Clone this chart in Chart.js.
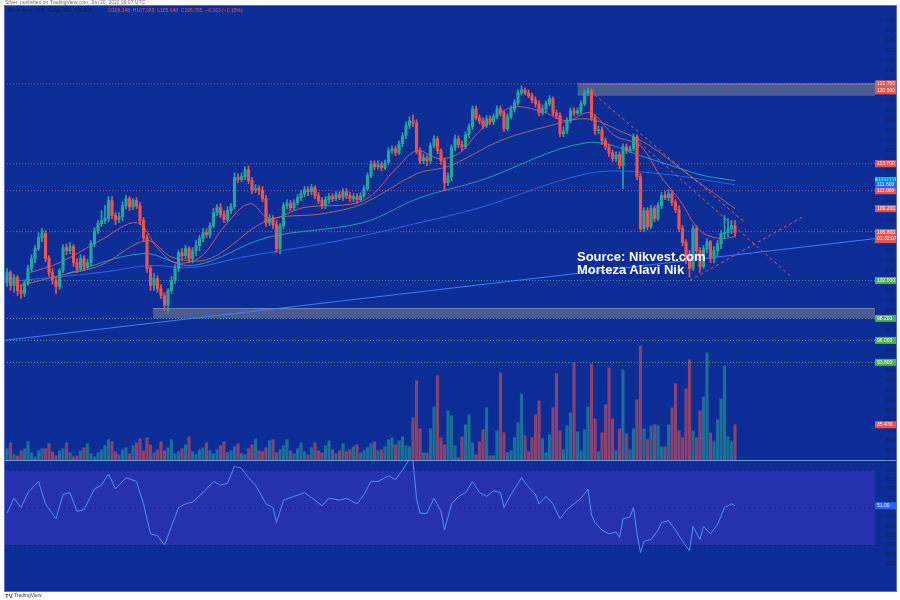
<!DOCTYPE html>
<html>
<head>
<meta charset="utf-8">
<script src="https://cdn.jsdelivr.net/npm/chart.js@4.4.0/dist/chart.umd.min.js"></script>
<style>
  body { margin: 0; background: #fff; }
  #wrap { position: relative; width: 900px; height: 600px; overflow: hidden; }
  #chart { position: absolute; left: 0; top: 0; }
  #source { position: absolute; left: 577px; top: 250px; color: #fff; font: bold 13px "Liberation Sans", Arial, sans-serif; line-height: 13px; pointer-events: none; }
</style>
</head>
<body>
<div id="wrap">
  <canvas id="chart" width="900" height="600"></canvas>
  <div id="source">Source: Nikvest.com<br>Morteza Alavi Nik</div>
</div>
<script>
// candles, one per bar
const opens = [
  101.8,102.8,101.5,102.3,101.0,100.7,101.8,103.2,104.2,105.2,
  106.3,106.7,104.2,102.8,102.0,101.4,103.0,105.3,105.0,105.4,
  103.8,103.2,104.2,103.4,103.8,105.7,107.0,107.7,108.0,108.2,
  110.0,108.5,108.1,108.4,109.5,110.2,109.4,110.0,109.5,108.0,
  106.3,103.2,101.5,102.2,101.2,100.5,99.5,101.0,102.0,103.2,
  104.8,104.5,105.2,104.2,105.0,105.5,106.2,106.8,106.6,107.5,
  108.8,109.3,108.6,108.1,109.0,109.4,112.3,112.1,112.4,113.1,
  112.0,111.1,111.2,111.0,110.2,107.8,108.2,107.6,105.2,107.5,
  109.5,109.7,109.3,109.8,110.3,110.7,111.1,110.9,111.3,110.5,
  110.0,109.5,110.1,110.4,110.2,110.6,110.3,110.9,110.5,110.2,
  110.4,110.1,110.5,111.2,112.5,113.7,113.4,113.6,113.3,113.8,
  115.0,115.2,114.8,115.7,116.5,117.5,118.0,117.8,115.0,114.0,
  114.3,114.0,115.5,116.2,115.0,114.0,111.8,112.4,115.3,116.2,
  115.6,115.4,116.6,117.4,119.2,118.3,118.0,117.5,118.2,117.9,
  118.4,119.2,118.8,117.2,118.4,119.2,119.8,120.8,121.1,120.8,
  120.5,120.1,119.7,118.8,119.2,119.7,120.2,118.8,118.5,116.7,
  117.0,118.0,119.0,118.8,119.0,119.7,120.8,121.0,118.3,117.0,
  117.1,116.0,115.4,114.8,114.2,114.6,113.5,115.4,115.0,115.2,
  116.4,112.4,107.2,109.0,107.4,109.2,108.2,109.5,110.5,110.3,
  110.7,109.8,109.1,107.2,105.8,104.2,103.2,107.2,105.0,103.4,
  105.2,105.9,104.2,105.0,105.7,106.7,106.8,107.2,107.5
];
const highs = [
  103.2,103.0,102.6,102.5,101.6,102.0,103.5,104.6,105.5,106.8,
  107.2,107.0,104.5,103.2,102.4,103.2,105.6,105.7,105.8,105.6,
  104.2,104.6,104.5,104.1,106.0,107.3,108.0,109.0,109.5,110.4,
  110.4,108.8,108.8,109.9,110.5,110.4,110.2,110.3,109.8,108.3,
  106.6,103.5,102.7,102.5,101.6,100.8,101.2,102.4,103.6,105.0,
  105.2,105.5,105.4,105.3,106.0,106.5,107.2,107.2,107.8,109.2,
  109.6,109.7,109.0,109.4,109.7,112.8,112.7,112.8,113.4,113.5,
  112.3,111.6,111.5,111.4,110.5,108.6,108.5,108.0,107.7,109.8,
  110.1,110.0,110.1,110.6,111.0,111.4,111.4,111.6,111.5,110.8,
  110.3,110.4,110.7,110.7,110.9,110.9,111.2,111.2,110.8,110.7,
  110.7,110.8,111.5,112.8,114.0,114.0,114.0,113.9,114.1,115.3,
  115.5,115.5,116.0,116.8,117.9,118.4,118.6,118.1,115.3,114.7,
  114.6,115.8,116.5,116.4,115.2,114.3,112.8,115.6,116.6,116.5,
  116.0,116.9,117.7,119.5,119.5,118.6,118.3,118.5,118.5,118.7,
  119.5,119.5,119.0,118.7,119.5,120.1,121.1,121.5,121.3,121.1,
  120.8,120.4,120.0,119.6,120.0,120.5,120.4,119.1,118.8,117.4,
  118.3,119.3,119.3,119.3,120.0,121.1,121.3,121.2,118.6,117.5,
  117.4,116.3,115.7,115.1,114.9,114.9,115.7,115.7,115.5,116.7,
  116.6,112.7,109.3,109.3,109.5,109.5,109.8,110.8,110.9,111.1,
  111.0,110.1,109.5,107.5,106.1,105.0,107.5,107.5,105.3,105.5,
  106.2,106.0,105.4,106.0,107.0,108.5,108.2,108.0,108.0
];
const lows = [
  101.4,101.0,100.8,100.5,100.2,100.4,101.5,102.9,103.8,105.0,
  105.9,103.9,102.4,101.6,100.7,101.1,102.8,104.6,104.7,103.4,
  102.8,102.9,103.0,103.2,103.5,105.4,106.7,107.4,107.7,107.9,
  108.2,107.6,107.8,108.0,109.2,109.0,109.1,109.2,107.6,106.0,
  102.8,101.0,101.0,100.8,100.2,99.0,98.8,100.7,101.7,102.9,
  104.0,104.2,103.8,103.8,104.5,105.0,105.9,106.3,106.3,107.3,
  108.5,108.3,107.8,107.9,108.7,109.2,111.8,111.9,112.1,111.7,
  110.7,110.8,110.6,109.9,107.4,107.5,107.2,104.8,104.7,107.2,
  109.2,109.0,109.1,109.6,110.0,110.4,110.5,110.6,110.2,109.7,
  109.2,109.2,109.7,109.9,110.0,110.1,110.0,110.2,109.9,109.9,
  109.7,109.9,110.3,111.0,112.3,113.1,113.2,113.0,113.1,113.6,
  114.7,114.5,114.6,115.4,116.2,117.2,117.4,114.7,113.7,113.7,
  113.5,113.7,115.3,114.7,113.6,111.0,111.5,112.0,115.0,115.3,
  115.0,115.2,116.3,117.1,118.1,117.7,117.2,117.3,117.6,117.6,
  118.2,118.5,116.9,117.0,118.2,118.9,119.6,120.6,120.6,120.3,
  119.8,119.4,118.5,118.6,118.9,119.5,118.5,118.2,116.4,116.4,
  116.7,117.8,118.5,118.6,118.7,119.5,120.5,118.0,116.6,116.7,
  115.6,115.1,114.4,113.9,113.9,113.2,111.2,114.7,114.8,115.0,
  112.1,106.9,106.9,107.1,107.2,107.9,108.0,109.2,110.1,110.0,
  109.5,108.8,106.9,105.5,103.7,102.3,103.0,104.2,102.8,103.2,
  104.8,103.8,103.8,104.4,105.2,106.2,106.4,106.7,106.4
];
const closes = [
  102.8,101.5,102.3,101.0,100.7,101.8,103.2,104.2,105.2,106.3,
  106.7,104.2,102.8,102.0,101.4,103.0,105.3,105.0,105.4,103.8,
  103.2,104.2,103.4,103.8,105.7,107.0,107.7,108.0,108.2,110.0,
  108.5,108.1,108.4,109.5,110.2,109.4,110.0,109.5,108.0,106.3,
  103.2,101.5,102.2,101.2,100.5,99.5,101.0,102.0,103.2,104.8,
  104.5,105.2,104.2,105.0,105.5,106.2,106.8,106.6,107.5,108.8,
  109.3,108.6,108.1,109.0,109.4,112.3,112.1,112.4,113.1,112.0,
  111.1,111.2,111.0,110.2,107.8,108.2,107.6,105.2,107.5,109.5,
  109.7,109.3,109.8,110.3,110.7,111.1,110.9,111.3,110.5,110.0,
  109.5,110.1,110.4,110.2,110.6,110.3,110.9,110.5,110.2,110.4,
  110.1,110.5,111.2,112.5,113.7,113.4,113.6,113.3,113.8,115.0,
  115.2,114.8,115.7,116.5,117.5,118.0,117.8,115.0,114.0,114.3,
  114.0,115.5,116.2,115.0,114.0,111.8,112.4,115.3,116.2,115.6,
  115.4,116.6,117.4,119.2,118.3,118.0,117.5,118.2,117.9,118.4,
  119.2,118.8,117.2,118.4,119.2,119.8,120.8,121.1,120.8,120.5,
  120.1,119.7,118.8,119.2,119.7,120.2,118.8,118.5,116.7,117.0,
  118.0,119.0,118.8,119.0,119.7,120.8,121.0,118.3,117.0,117.1,
  116.0,115.4,114.8,114.2,114.6,113.5,115.4,115.0,115.2,116.4,
  112.4,107.2,109.0,107.4,109.2,108.2,109.5,110.5,110.3,110.7,
  109.8,109.1,107.2,105.8,104.2,103.2,107.2,105.0,103.4,105.2,
  105.9,104.2,105.0,105.7,106.7,106.8,107.2,107.5,106.8
];
const volumes = [
  11,17,5,4,9,11,18,7,3,9,
  11,11,16,8,4,9,11,17,7,3,
  4,9,12,16,6,3,7,10,14,20,
  18,8,5,10,12,6,14,17,21,9,
  22,15,7,10,18,9,12,20,6,8,
  11,15,23,8,5,10,12,17,9,6,
  10,14,18,7,9,13,16,6,5,11,
  15,21,9,8,12,19,20,7,10,14,
  20,9,6,11,17,8,5,12,17,9,
  7,14,19,10,6,9,16,8,10,13,
  15,7,9,12,16,18,9,10,13,20,
  22,15,19,23,14,13,42,79,31,7,
  7,31,53,84,22,15,49,44,14,2,
  23,35,45,17,5,18,30,52,4,4,
  29,87,27,7,9,22,37,66,24,8,
  22,45,59,21,7,25,52,86,29,10,
  34,47,97,28,9,30,53,96,41,8,
  27,55,92,41,9,31,90,26,10,31,
  60,114,31,20,34,35,34,13,13,35,
  52,76,29,22,71,100,29,22,49,63,
  107,27,18,40,61,94,23,18,35
];

// RSI, read at the bar index where it turns
const rsiIdx = [0,2,4,6,9,11,14,16,18,20,22,25,27,29,31,34,37,39,41,43,45,47,49,51,53,56,59,61,63,65,67,69,71,74,76,77,79,82,85,88,90,92,95,97,100,102,104,106,109,111,113,115,116,117,118,120,122,124,125,127,129,131,133,135,137,139,141,142,144,146,147,149,151,152,154,156,158,160,162,164,166,167,168,170,172,174,175,176,178,179,180,181,182,184,186,187,189,191,193,195,196,198,199,201,203,205,207,208];
const rsiVals = [47,55,50,58,64,52,44,57,58,48,49,60,62,68,60,66,64,52,36,35,30,40,50,52,53,58,64,62,63,72,71,66,62,52,50,42,54,56,58,54,51,55,54,55,52,57,64,64,67,65,70,76,75,55,47,47,55,48,38,52,56,58,64,58,56,59,58,50,57,63,66,61,57,52,56,52,44,49,52,55,60,46,42,38,36,37,34,44,45,50,36,26,32,33,38,42,43,38,32,27,40,33,40,36,41,50,52,51];

// moving averages (sampled)
const fastMaIdx = [6.6,15.1,26.6,37.1,42.9,48,55.1,62.3,69.4,75.1,84.6,101.7,111.4,117.1,123.7,129.4,135.1,143.7,152.3,160,166.6,173.7,180.9,186.6,192.3,198,203.7,208];
const fastMaVals = [102.8,103.8,106.0,107.8,105.3,103.8,104.3,107.5,109.7,108.2,109.3,110.0,113.3,115.0,114.2,114.8,117.0,119.3,119.0,118.0,118.8,116.5,115.5,112.5,110.0,107.0,106.2,106.4];
const slowMaIdx = [3.7,15.1,26.6,40,47.4,58,74.3,90.3,101.7,117.1,126.6,140.9,155.1,165.7,175.1,183.7,195.1,208];
const slowMaVals = [101.5,102.5,103.5,106.0,104.3,104.2,108.0,108.7,109.7,112.7,113.5,116.0,117.5,118.2,117.0,115.5,112.5,109.2];
const tealMaIdx = [17.1,38.9,53.1,74.3,101.7,118,135.1,165.7,183.7,198,208];
const tealMaVals = [102.7,104.7,103.5,106.3,107.8,110.3,112.0,115.8,114.2,112.6,112.0];
const blueMaIdx = [3.7,26.6,40.9,53.1,66.6,95.1,118,135.1,165.7,183.7,208];
const blueMaVals = [102.0,102.8,103.5,103.3,104.3,106.0,107.8,109.3,112.7,112.8,111.6];

// drawn levels, zones and trend lines
const resistanceLevels = [121.7, 113.7, 111.0, 106.9];
const supportLevels = [102.0, 98.2, 96.0, 93.8];
const zoneStart = [163, 41.7];
const zoneTop = [121.7, 99.2];
const zoneBottom = [120.5, 98.2];
const longTrend = [[-0.86, 96.0], [248, 106.2]];
const downTrendA = [[166.6, 121.0], [210.9, 107.8]];
const downTrendB = [[179.4, 116.2], [223.7, 102.5]];
const upTrend = [[195.1, 102.0], [228, 108.5]];

// time axis
const xTickIdx = [12,22.6,30,37.4,47.1,54.3,61.4,71.4,78.9,86,96,103.1,110.3,118.9,125.7,134.6,144.3,151.7,158.9,168.9,176,183.4,192.3,200,207.1,217.1,227.1];
const xTickLabels = ['May','4','14:00','9','11','12:00','16','20','18:00','18','20','14:00','25','Jun','6','9','16:00','13','16','14:00','20','22','14:00','27','Jul','6','7'];

const BG = '#0c2d95';
const UP = '#26a69a';
const DOWN = '#ef5350';
const TICK = 'rgba(30,35,75,0.9)';
const X_MIN = -0.86, X_MAX = 248;

const isUp = closes.map((c, i) => c >= opens[i]);
const last = arr => arr[arr.length - 1];
const pts = (xs, ys) => xs.map((x, i) => ({ x: x, y: ys[i] }));
const seg = p => p.map(q => ({ x: q[0], y: q[1] }));
const flat = v => [{ x: X_MIN, y: v }, { x: X_MAX, y: v }];

const datasets = [];

datasets.push({
  type: 'bar', label: 'body', order: 2, grouped: false,
  data: opens.map((o, i) => ({ x: i, y: [o, closes[i]] })),
  backgroundColor: isUp.map(u => u ? UP : DOWN),
  barThickness: 2.5, minBarLength: 1
});
datasets.push({
  type: 'bar', label: 'wick', order: 3, grouped: false,
  data: lows.map((l, i) => ({ x: i, y: [l, highs[i]] })),
  backgroundColor: isUp.map(u => u ? UP : DOWN),
  barThickness: 1
});

function maLine(label, xs, ys, color) {
  return { type: 'line', label: label, order: 4, data: pts(xs, ys), borderColor: color, borderWidth: 1, pointRadius: 0, tension: 0.35 };
}
datasets.push(maLine('fast', fastMaIdx, fastMaVals, 'rgba(225,95,125,0.85)'));
datasets.push(maLine('slow', slowMaIdx, slowMaVals, 'rgba(185,115,95,0.85)'));
datasets.push(maLine('teal', tealMaIdx, tealMaVals, 'rgba(40,175,185,0.85)'));
datasets.push(maLine('blue', blueMaIdx, blueMaVals, 'rgba(45,100,240,0.95)'));

function trend(p, color, dash) {
  return { type: 'line', order: 1, data: seg(p), borderColor: color, borderWidth: 1, borderDash: dash, pointRadius: 0 };
}
datasets.push(trend(longTrend, '#3f7dff', []));
datasets.push(trend(downTrendA, 'rgba(240,95,95,0.9)', [3, 3]));
datasets.push(trend(downTrendB, 'rgba(240,95,95,0.9)', [3, 3]));
datasets.push(trend(upTrend, 'rgba(240,95,95,0.9)', [3, 3]));

resistanceLevels.forEach(v => datasets.push({
  type: 'line', order: 6, data: flat(v), borderColor: 'rgba(225,95,110,0.75)', borderWidth: 1, borderDash: [1, 2], pointRadius: 0
}));
supportLevels.forEach(v => datasets.push({
  type: 'line', order: 6, data: flat(v), borderColor: 'rgba(70,200,120,0.75)', borderWidth: 1, borderDash: [1, 2], pointRadius: 0
}));

zoneStart.forEach((s, i) => datasets.push({
  type: 'line', order: 7, data: [{ x: s, y: zoneTop[i] }, { x: X_MAX, y: zoneTop[i] }],
  borderColor: 'rgba(170,175,190,0.6)', borderWidth: 1, pointRadius: 0,
  fill: { value: zoneBottom[i] }, backgroundColor: 'rgba(140,140,145,0.5)'
}));

datasets.push({
  type: 'bar', label: 'volume', order: 8, grouped: false, yAxisID: 'vol',
  data: volumes.map((v, i) => ({ x: i, y: v })),
  backgroundColor: isUp.map(u => u ? 'rgba(38,166,154,0.55)' : 'rgba(239,83,80,0.55)'),
  barThickness: 2.5
});

// RSI pane
datasets.push({
  type: 'line', order: 10, yAxisID: 'rsi', data: flat(70), borderColor: 'rgba(10,20,70,0.5)', borderWidth: 1, borderDash: [2, 3],
  pointRadius: 0, fill: { value: 30 }, backgroundColor: 'rgba(95,60,235,0.3)'
});
[50, 30].forEach(v => datasets.push({
  type: 'line', order: 10, yAxisID: 'rsi', data: flat(v), borderColor: 'rgba(10,20,70,0.5)', borderWidth: 1, borderDash: [2, 3], pointRadius: 0
}));
datasets.push({
  type: 'line', label: 'RSI', order: 5, yAxisID: 'rsi', data: pts(rsiIdx, rsiVals),
  borderColor: '#4f94ec', borderWidth: 1, pointRadius: 0, tension: 0
});

const tags = [
  { axis: 'y', v: resistanceLevels[0], bg: '#ef5350', sub: zoneBottom[0].toFixed(3) },
  { axis: 'y', v: resistanceLevels[1], bg: '#ef5350' },
  { axis: 'y', v: resistanceLevels[2], bg: '#ef5350' },
  ...supportLevels.map(v => ({ axis: 'y', v: v, bg: '#4caf50' })),
  { axis: 'y', v: last(slowMaVals), bg: '#ef5350' },
  { axis: 'y', v: last(tealMaVals), bg: '#00e5ff', fg: '#0a2a80' },
  { axis: 'y', v: last(blueMaVals), bg: '#2962ff' },
  { axis: 'y', v: last(closes), bg: '#ef5350', sub: '01:32:07' },
  { axis: 'vol', v: last(volumes), bg: '#ef5350', text: last(volumes) + '.47K' },
  { axis: 'rsi', v: last(rsiVals), bg: '#2962ff', text: last(rsiVals).toFixed(2) }
];

const frame = {
  id: 'frame',
  beforeDraw(chart) {
    const ctx = chart.ctx;
    ctx.save();
    ctx.fillStyle = '#fff';
    ctx.fillRect(0, 0, 900, 600);
    ctx.fillStyle = BG;
    ctx.fillRect(4, 5, 893, 587);
    ctx.restore();
  },
  afterDraw(chart) {
    const ctx = chart.ctx;
    const area = chart.chartArea;
    ctx.save();
    // pane separator
    const sepY = Math.round(chart.scales.rsi.top) + 0.5;
    ctx.strokeStyle = 'rgba(130,160,225,0.9)';
    ctx.lineWidth = 1;
    ctx.beginPath(); ctx.moveTo(4, sepY); ctx.lineTo(897, sepY); ctx.stroke();
    // frame border
    ctx.strokeStyle = 'rgba(90,120,200,0.9)';
    ctx.strokeRect(4.5, 5.5, 892, 586);

    // axis tags
    ctx.font = '5px "Liberation Sans", Arial, sans-serif';
    ctx.textBaseline = 'middle';
    ctx.textAlign = 'left';
    tags.forEach(t => {
      const y = chart.scales[t.axis].getPixelForValue(t.v);
      const h = t.sub ? 14 : 7;
      ctx.fillStyle = t.bg;
      ctx.fillRect(area.right, y - 3.5, 21, h);
      ctx.fillStyle = t.fg || '#fff';
      ctx.fillText(t.text || t.v.toFixed(3), area.right + 2, y);
      if (t.sub) ctx.fillText(t.sub, area.right + 2, y + 6.5);
    });

    // header and footer
    ctx.textBaseline = 'middle';
    ctx.fillStyle = 'rgba(90,90,100,0.9)';
    ctx.fillText('Silver, published on TradingView.com, Jun 20, 2022 09:07 UTC', 5, 2.5);
    ctx.fillStyle = 'rgba(20,25,60,0.95)';
    ctx.fillText('Silver Spot / U.S. Dollar, 240, OANDA', 8, 11);
    ctx.fillStyle = '#ef5350';
    ctx.fillText('O106.348  H107.085  L105.648  C106.785  \u22120.163 (\u22120.15%)', 108, 11);
    ctx.fillStyle = 'rgba(40,40,50,0.9)';
    ctx.font = 'bold 6px "Liberation Sans", Arial, sans-serif';
    ctx.fillText('TV', 5, 596);
    ctx.font = '5px "Liberation Sans", Arial, sans-serif';
    ctx.fillText('TradingView', 14, 596);
    ctx.restore();
  }
};

new Chart(document.getElementById('chart'), {
  data: { datasets: datasets },
  options: {
    responsive: false,
    animation: false,
    events: [],
    layout: { autoPadding: false, padding: { left: 4, top: 5, right: 3, bottom: 8 } },
    plugins: { legend: { display: false }, tooltip: { enabled: false } },
    scales: {
      x: {
        type: 'linear', min: X_MIN, max: X_MAX, offset: false,
        grid: { display: false, offset: false }, border: { display: false },
        afterBuildTicks: s => { s.ticks = xTickIdx.map(v => ({ value: v })); },
        afterFit: s => { s.height = 12; s.paddingLeft = 0; s.paddingRight = 0; },
        ticks: {
          autoSkip: false, maxRotation: 0, padding: 5, color: TICK,
          font: { size: 5, family: '"Liberation Sans", Arial, sans-serif' },
          callback: (v, i) => xTickLabels[i]
        }
      },
      y: {
        type: 'linear', position: 'right', stack: 'pane', stackWeight: 455,
        min: 84, max: 129.5,
        grid: { display: false }, border: { display: false },
        afterBuildTicks: s => { s.ticks = s.ticks.filter(t => Number.isInteger(t.value)); },
        afterFit: s => { s.width = 22; },
        ticks: {
          stepSize: 1, autoSkip: false, padding: 3, color: TICK,
          font: { size: 5, family: '"Liberation Sans", Arial, sans-serif' },
          callback: v => v.toFixed(3)
        }
      },
      rsi: {
        type: 'linear', position: 'right', stack: 'pane', stackWeight: 120,
        min: 11.33, max: 75.33,
        grid: { display: false }, border: { display: false },
        afterBuildTicks: s => { s.ticks = s.ticks.filter(t => t.value % 5 === 0); },
        afterFit: s => { s.width = 22; },
        ticks: {
          stepSize: 5, autoSkip: false, padding: 3, color: TICK,
          font: { size: 5, family: '"Liberation Sans", Arial, sans-serif' },
          callback: v => v.toFixed(3)
        }
      },
      vol: {
        type: 'linear', position: 'left', display: false,
        min: -120.5, max: 454.5
      }
    }
  },
  plugins: [frame]
});
</script>
</body>
</html>
